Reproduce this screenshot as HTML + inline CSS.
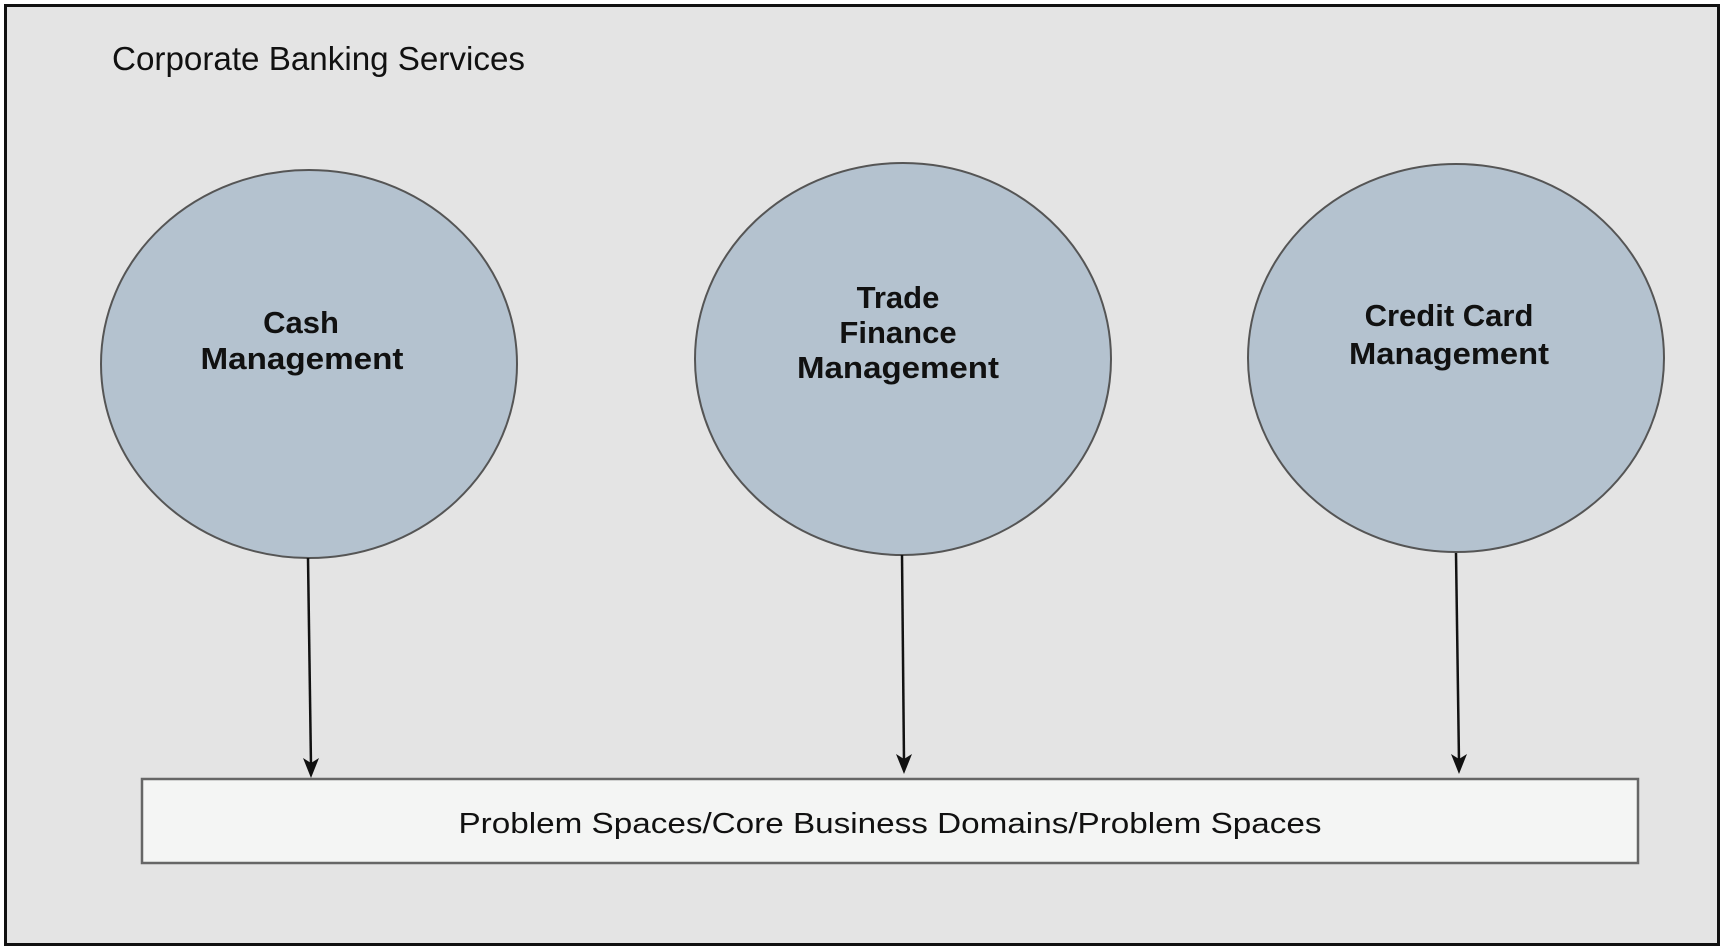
<!DOCTYPE html>
<html><head><meta charset="utf-8"><style>
html,body{margin:0;padding:0;background:#fff;}
svg{display:block;}
text{font-family:"Liberation Sans",Arial,sans-serif;fill:#111;}
</style></head><body>
<svg width="1725" height="950" viewBox="0 0 1725 950" xmlns="http://www.w3.org/2000/svg">
<rect x="5.5" y="5.5" width="1713" height="939" fill="#e4e4e4" stroke="#111" stroke-width="3"/>
<text x="112" y="70" font-size="33" textLength="413" lengthAdjust="spacingAndGlyphs">Corporate Banking Services</text>

<ellipse cx="309" cy="364" rx="208" ry="194" fill="#b4c2cf" stroke="#555" stroke-width="2"/>
<ellipse cx="903" cy="359" rx="208" ry="196" fill="#b4c2cf" stroke="#555" stroke-width="2"/>
<ellipse cx="1456" cy="358" rx="208" ry="194" fill="#b4c2cf" stroke="#555" stroke-width="2"/>

<g font-weight="bold" font-size="31" text-anchor="middle">
<text x="301" y="333">Cash</text>
<text x="302" y="369" textLength="203" lengthAdjust="spacingAndGlyphs">Management</text>
<text x="898" y="308">Trade</text>
<text x="898" y="343">Finance</text>
<text x="898" y="378" textLength="202" lengthAdjust="spacingAndGlyphs">Management</text>
<text x="1449" y="326">Credit Card</text>
<text x="1449" y="364" textLength="200" lengthAdjust="spacingAndGlyphs">Management</text>
</g>

<g stroke="#111" stroke-width="2.5" fill="none">
<line x1="308" y1="558" x2="311" y2="766"/>
<line x1="902" y1="555" x2="904" y2="762"/>
<line x1="1456" y1="553" x2="1459" y2="762"/>
</g>
<g fill="#111">
<polygon points="303,758 311,778 319,758 311,763"/>
<polygon points="896,754 904,774 912,754 904,759"/>
<polygon points="1451,754 1459,774 1467,754 1459,759"/>
</g>

<rect x="142" y="779" width="1496" height="84" fill="#f4f5f4" stroke="#666" stroke-width="2.5"/>
<text x="890" y="833" font-size="29" text-anchor="middle" fill="#222" textLength="863" lengthAdjust="spacingAndGlyphs">Problem Spaces/Core Business Domains/Problem Spaces</text>
</svg>
</body></html>
